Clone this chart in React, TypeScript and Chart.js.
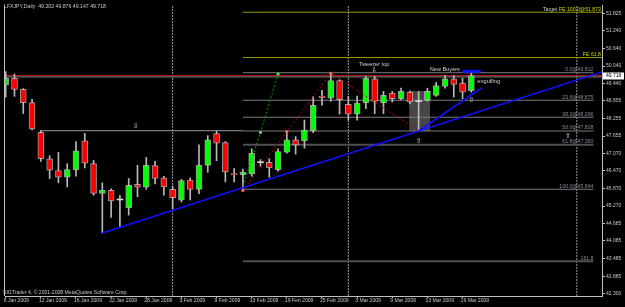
import React, { useEffect, useRef } from 'react';
import { Chart, registerables } from 'chart.js';

Chart.register(...registerables);

// ---------- DATA ----------
const chartTitle = 'LFXJPY,Daily  49.202 49.876 49.147 49.718';
const copyrightText = 'SIGTrader 4, \u00A9 2001-2008 MetaQuotes Software Corp.';

const dateLabels = ['6 Jan 2009', '12 Jan 2009', '16 Jan 2009', '22 Jan 2009', '28 Jan 2009', '3 Feb 2009', '9 Feb 2009', '13 Feb 2009', '19 Feb 2009', '25 Feb 2009', '3 Mar 2009', '9 Mar 2009', '13 Mar 2009', '19 Mar 2009'];
const dateLabelBars = [0, 4, 8, 12, 16, 20, 24, 28, 32, 36, 40, 44, 48, 52];

const priceTicks = [51.825, 51.24, 50.64, 50.04, 49.44, 48.855, 48.255, 47.655, 47.07, 46.47, 45.87, 45.27, 44.685, 44.085, 43.485, 42.885, 42.3];

const opens = [49.399, 49.625, 49.244, 48.792, 47.781, 46.884, 46.48, 46.254, 46.514, 47.491, 46.716, 45.705, 45.806, 45.49, 45.209, 46.008, 45.917, 46.649, 46.23, 45.84, 45.469, 46.153, 45.84, 46.659, 47.737, 47.434, 46.379, 46.345, 46.365, 46.76, 46.76, 46.514, 47.107, 47.525, 47.491, 47.838, 49.018, 48.95, 49.547, 48.738, 48.401, 48.792, 49.601, 48.782, 49.119, 48.927, 49.153, 48.84, 48.873, 49.041, 49.345, 49.601, 49.456, 49.202];
const highs = [49.85, 49.769, 49.27, 48.907, 47.838, 46.985, 47.097, 46.716, 47.467, 47.747, 46.827, 46.062, 45.86, 45.637, 46.21, 46.659, 46.928, 46.793, 46.288, 45.951, 46.177, 46.23, 47.356, 47.67, 47.828, 47.467, 46.547, 46.534, 47.221, 46.851, 46.884, 47.221, 47.804, 47.636, 48.199, 49.008, 49.21, 49.793, 49.581, 49.008, 49.018, 49.692, 49.692, 49.176, 49.176, 49.287, 49.186, 49.176, 49.287, 49.49, 49.716, 49.716, 49.625, 49.876];
const lows = [48.984, 49.008, 48.421, 47.862, 46.793, 46.21, 46.062, 45.927, 46.288, 46.568, 45.637, 44.357, 44.882, 44.545, 44.963, 45.59, 45.84, 46.028, 45.647, 45.165, 45.411, 45.479, 45.691, 46.423, 46.817, 46.096, 46.096, 45.806, 46.288, 46.625, 46.254, 46.456, 47.073, 47.039, 47.242, 47.771, 48.704, 48.839, 48.401, 48.199, 48.199, 48.59, 48.421, 48.421, 48.816, 48.893, 48.748, 47.828, 48.85, 49.008, 49.287, 48.984, 48.927, 49.147];
const closes = [49.625, 49.244, 48.792, 47.895, 46.884, 46.49, 46.254, 46.514, 47.154, 46.736, 45.705, 45.806, 45.445, 45.48, 45.974, 45.917, 46.659, 46.21, 45.927, 45.556, 46.143, 45.84, 46.659, 47.525, 47.41, 46.433, 46.345, 46.423, 47.073, 46.75, 46.568, 47.13, 47.525, 47.356, 47.862, 48.704, 48.961, 49.547, 48.893, 48.401, 48.782, 49.625, 48.839, 49.041, 48.927, 49.176, 48.816, 48.83, 49.176, 49.378, 49.601, 49.412, 49.153, 49.718];

const lastPrice = 49.718;
const greyLevel = 49.67;

const fibPrices = [49.812, 48.875, 48.296, 47.828, 47.36, 45.844, 43.392];
const fibLabels = ['0.0@49.812', '23.6@48.875', '38.2@48.296', '50.0@47.828', '61.8@47.360', '100.0@45.844', '161.8'];
const fibStartBar = 27;
const fibEndBar = 66.9;

const fePrices = [51.873, 50.33];
const feTexts = ['FE 100.0@51.873', 'FE 61.8'];
const fePrefix = ['Target ', ''];

const trendAnchors = [[11, 44.357], [47, 47.828]];
const steepLine = [[47, 47.828], [54.2, 49.3]];
const redZigzag = [[27, 45.806], [32, 47.8], [37, 49.793], [47, 47.828]];
const greenFe = [[27, 45.951], [29, 47.781], [31, 49.769]];
const resistanceLine = [[3.9, 47.838], [27, 47.838]];
const newBuyersBar = [[51.98, 49.86], [54.05, 49.86]];
const separatorBars = [19, 39, 65];
const boxBars = [45.93, 48.3];
const boxPrices = [47.828, 49.186];

const downArrows = [[14.8, 47.996], [41.95, 49.904]];
const upArrows = [[47, 47.491], [53, 48.893], [64, 47.66]];
const notes = [
  { text: 'Tweezer top', x: 41.94, y: 50.08, align: 'center' },
  { text: 'New Buyers', x: 49.98, y: 49.911, align: 'center' },
  { text: 'engulfing', x: 53.68, y: 49.507, align: 'left' },
];

const xMin = -0.08;
const xMax = 67.87;
const yMin = 42.209;
const yMax = 52.119;

// ---------- HELPERS ----------
const pts = (arr: number[][]) => arr.map(([x, y]) => ({ x, y }));

const lineDs = (data: any[], color: string, width: number, order: number, extra: any = {}) => ({
  type: 'line',
  data,
  borderColor: color,
  borderWidth: width,
  pointRadius: 0,
  fill: false,
  tension: 0,
  order,
  ...extra,
});

export default function App() {
  const canvasRef = useRef<HTMLCanvasElement | null>(null);

  useEffect(() => {
    document.body.style.margin = '0';
    document.body.style.background = '#000';
    const canvas = canvasRef.current;
    if (!canvas) return;

    const idx = opens.map((_, i) => i);
    const isDoji = (i: number) => Math.abs(closes[i] - opens[i]) < 0.025;
    const bodyColors = idx.map((i) => (isDoji(i) ? '#d4d4d4' : closes[i] > opens[i] ? '#00ff00' : '#ff0000'));
    const bodyBorders = idx.map((i) => (isDoji(i) ? 0 : 1));

    const slope = (trendAnchors[1][1] - trendAnchors[0][1]) / (trendAnchors[1][0] - trendAnchors[0][0]);
    const trendData = [
      { x: trendAnchors[0][0], y: trendAnchors[0][1] },
      { x: xMax, y: trendAnchors[0][1] + slope * (xMax - trendAnchors[0][0]) },
    ];

    const datasets: any[] = [
      {
        type: 'bar',
        data: idx.map((i) => ({ x: i, y: [lows[i], highs[i]] })),
        backgroundColor: '#b8b8b8',
        borderWidth: 0,
        barThickness: 1,
        grouped: false,
        order: 8,
      },
      {
        type: 'bar',
        data: idx.map((i) => ({ x: i, y: [opens[i], closes[i]] })),
        backgroundColor: bodyColors,
        borderColor: 'rgba(200,200,200,0.75)',
        borderWidth: bodyBorders,
        borderSkipped: false,
        barThickness: 6,
        minBarLength: 1,
        grouped: false,
        order: 7,
      },
    ];

    separatorBars.forEach((b) => {
      datasets.push(lineDs([{ x: b, y: yMin }, { x: b, y: yMax }], '#9a9a9a', 1, 12, { borderDash: [2, 1] }));
    });
    datasets.push(lineDs([{ x: xMin, y: greyLevel }, { x: xMax, y: greyLevel }], '#8a8a8a', 1, 10));
    datasets.push(lineDs([{ x: xMin, y: lastPrice }, { x: xMax, y: lastPrice }], '#b01818', 1, 10));
    fibPrices.forEach((p, i) => {
      const thick = i === 4 || i === 6;
      datasets.push(lineDs([{ x: fibStartBar, y: p }, { x: fibEndBar, y: p }], thick ? '#505050' : '#7c7c7c', thick ? 2 : 1, 10));
    });
    fePrices.forEach((p) => {
      datasets.push(lineDs([{ x: fibStartBar, y: p }, { x: xMax, y: p }], '#9a9a00', 1, 10));
    });
    datasets.push(lineDs(pts(resistanceLine), '#9a9a9a', 1, 10));

    datasets.push(lineDs(pts(redZigzag), '#c00000', 1, 2, {
      borderDash: [2, 2],
      pointRadius: [1.5, 1.5, 1.5, 0],
      pointStyle: 'rect',
      pointBackgroundColor: '#ffffff',
      pointBorderColor: '#ff3030',
      pointBorderWidth: 1,
    }));
    datasets.push(lineDs(pts(greenFe), '#00a000', 1, 2, {
      borderDash: [2, 2],
      pointRadius: [0, 1.5, 1.5],
      pointStyle: 'rect',
      pointBackgroundColor: '#e0ffe0',
      pointBorderColor: '#30c030',
      pointBorderWidth: 1,
    }));
    datasets.push(lineDs(trendData, '#1010ff', 1.6, 1));
    datasets.push(lineDs(pts(steepLine), '#1010ff', 1.6, 1));
    datasets.push(lineDs(pts(newBuyersBar), '#1010ff', 3, 1));

    const overlay = {
      id: 'mtOverlay',
      beforeDraw(chart: any) {
        const { ctx, width, height } = chart;
        ctx.save();
        ctx.fillStyle = '#000000';
        ctx.fillRect(0, 0, width, height);
        ctx.restore();
      },
      beforeDatasetsDraw(chart: any) {
        const { ctx } = chart;
        const xs = chart.scales.x;
        const ys = chart.scales.y;
        const x0 = xs.getPixelForValue(boxBars[0]);
        const x1 = xs.getPixelForValue(boxBars[1]);
        const y0 = ys.getPixelForValue(boxPrices[1]);
        const y1 = ys.getPixelForValue(boxPrices[0]);
        ctx.save();
        ctx.fillStyle = 'rgba(140,140,140,0.5)';
        ctx.fillRect(x0, y0, x1 - x0, y1 - y0);
        ctx.restore();
      },
      afterDatasetsDraw(chart: any) {
        const { ctx, chartArea } = chart;
        const xs = chart.scales.x;
        const ys = chart.scales.y;
        const font = (s: number, fam = 'Liberation Sans') => `${s}px "${fam}"`;
        ctx.save();

        // left frame
        ctx.strokeStyle = '#c0c0c0';
        ctx.lineWidth = 1;
        ctx.beginPath();
        ctx.moveTo(chartArea.left - 0.5, chartArea.top);
        ctx.lineTo(chartArea.left - 0.5, chartArea.bottom);
        ctx.stroke();

        // title & copyright
        ctx.textBaseline = 'middle';
        ctx.textAlign = 'left';
        ctx.fillStyle = '#c8c8c8';
        ctx.font = font(5.2);
        ctx.fillText(chartTitle, 4, 6.5);
        ctx.font = font(5.1);
        ctx.fillText(copyrightText, 3, 292.5);

        // fib labels
        ctx.font = font(5.2);
        ctx.fillStyle = '#7f8d9b';
        ctx.textAlign = 'right';
        ctx.textBaseline = 'bottom';
        const fibX = xs.getPixelForValue(fibEndBar);
        fibPrices.forEach((p, i) => {
          ctx.fillText(fibLabels[i], fibX, ys.getPixelForValue(p) - 0.5);
        });

        // FE labels
        fePrices.forEach((p, i) => {
          const yy = ys.getPixelForValue(p) - 0.5;
          const xr = chartArea.right - 1;
          ctx.fillStyle = '#d8d800';
          ctx.textAlign = 'right';
          ctx.fillText(feTexts[i], xr, yy);
          if (fePrefix[i]) {
            const w = ctx.measureText(feTexts[i]).width;
            ctx.fillStyle = '#c8c8c8';
            ctx.fillText(fePrefix[i], xr - w, yy);
          }
        });

        // notes
        ctx.font = font(5.6);
        ctx.fillStyle = '#d0d0d0';
        ctx.textBaseline = 'middle';
        notes.forEach((n) => {
          ctx.textAlign = n.align as CanvasTextAlign;
          ctx.fillText(n.text, xs.getPixelForValue(n.x), ys.getPixelForValue(n.y));
        });

        // arrows
        ctx.font = font(7, 'DejaVu Sans');
        ctx.textAlign = 'center';
        ctx.fillStyle = '#d8d8d8';
        downArrows.forEach(([bx, py]) => ctx.fillText('\u21E9', xs.getPixelForValue(bx), ys.getPixelForValue(py)));
        upArrows.forEach(([bx, py]) => ctx.fillText('\u21E7', xs.getPixelForValue(bx), ys.getPixelForValue(py)));

        // last price box
        const py = ys.getPixelForValue(lastPrice);
        ctx.fillStyle = '#ffffff';
        ctx.fillRect(chartArea.right + 1, Math.round(py) - 3.5, 21, 7);
        ctx.fillStyle = '#000000';
        ctx.textAlign = 'left';
        ctx.font = font(5);
        ctx.fillText(lastPrice.toFixed(3), chartArea.right + 4, py);
        ctx.restore();
      },
    };

    const chart = new Chart(canvas, {
      type: 'bar',
      data: { datasets },
      plugins: [overlay],
      options: {
        animation: false,
        responsive: false,
        devicePixelRatio: 1,
        layout: { padding: { left: 2, top: 2, right: 0, bottom: 0 } },
        plugins: { legend: { display: false }, tooltip: { enabled: false }, title: { display: false } },
        scales: {
          x: {
            type: 'linear',
            min: xMin,
            max: xMax,
            offset: false,
            grid: { display: true, drawOnChartArea: false, drawTicks: true, tickLength: 2, color: '#c0c0c0', offset: false },
            border: { display: true, color: '#c0c0c0' },
            ticks: {
              autoSkip: false,
              maxRotation: 0,
              minRotation: 0,
              align: 'start',
              labelOffset: -2,
              padding: 0,
              color: '#c8c8c8',
              font: { family: 'Liberation Sans', size: 5.1 },
              callback: (_v: any, i: number) => dateLabels[i],
            },
            afterBuildTicks: (scale: any) => {
              scale.ticks = dateLabelBars.map((v) => ({ value: v }));
            },
            afterFit: (scale: any) => {
              scale.height = 11;
              scale.paddingLeft = 0;
              scale.paddingRight = 0;
            },
          },
          y: {
            type: 'linear',
            position: 'right',
            min: yMin,
            max: yMax,
            beginAtZero: false,
            grid: { display: true, drawOnChartArea: false, drawTicks: true, tickLength: 3, color: '#c0c0c0' },
            border: { display: true, color: '#c0c0c0' },
            ticks: {
              autoSkip: false,
              padding: 1,
              color: '#c8c8c8',
              font: { family: 'Liberation Sans', size: 5 },
              callback: (v: any) => Number(v).toFixed(3),
            },
            afterBuildTicks: (scale: any) => {
              scale.ticks = priceTicks.map((v) => ({ value: v }));
            },
            afterFit: (scale: any) => {
              scale.width = 23;
              scale.paddingTop = 0;
              scale.paddingBottom = 0;
            },
          },
        },
      } as any,
    } as any);

    return () => chart.destroy();
  }, []);

  return (
    <div style={{ position: 'fixed', left: 0, top: 0, width: 625, height: 307, background: '#000' }}>
      <canvas ref={canvasRef} width={625} height={307} style={{ display: 'block', width: 625, height: 307 }} />
    </div>
  );
}
